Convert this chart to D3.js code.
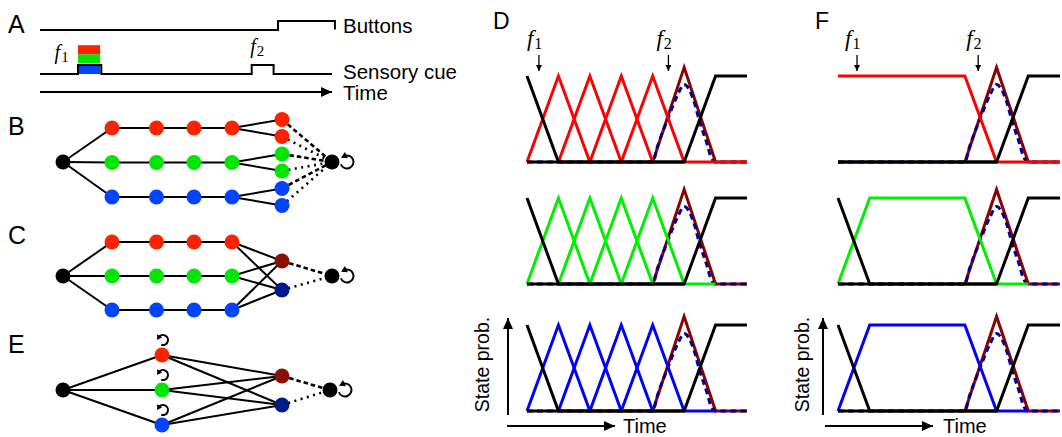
<!DOCTYPE html>
<html><head><meta charset="utf-8">
<script src="https://cdn.jsdelivr.net/npm/d3@7"></script>
<style>body{margin:0;background:#fff}svg{display:block}</style>
</head><body><svg id="fig" width="1062" height="437"></svg>
<script>
// ---------- data ----------
const chainLineColors = ["#ff0000", "#00ee00", "#0000ff"];   // red / green / blue state chains
const chainNodeColors = ["#ff2200", "#00e600", "#0044ff"];
const outcomeColors   = ["#8b1000", "#001a8c"];               // decision states
const decisionColor = "#8b0000";
const decisionDashColor = "#00008b";

// Panel A traces, [time, level]
const buttonsTrace = [[0,0],[81.5,0],[81.5,1],[101,1],[101,0.05]];
const cueTrace = [[0,0],[13,0],[13,1],[21,1],[21,0],[72.5,0],[72.5,1],[80,1],[80,0],[100,0]];
const cueBlocks = [ {lo:0, hi:1, color:2}, {lo:1.2, hi:2.2, color:1}, {lo:2.2, hi:3.2, color:0} ];
const cueBlockSpan = [13, 20.6];
const traceLabels = ["Buttons", "Sensory cue", "Time"];
const cueLabelTimes = [5, 72];

// Panels D and F: state probability over time (time in steps, prob 0..1)
const dBlack = [[0,1],[1,0],[5,0],[6,1],[7,1]];
const idleStates = [[0,0],[5,0]];
const dChainTriangles = [
  [[0,0],[1,1],[2,0]],
  [[1,0],[2,1],[3,0]],
  [[2,0],[3,1],[4,0]],
  [[3,0],[4,1],[5,0]]
];
const dChainTail = [ [[5,0],[7,0]], [[5,0],[6,0]], [[5,0],[6,0]] ];
const decisionTrace = [[4,0],[5,1.1],[6,0],[7,0]];
const decisionDashed = [[0,0],[4,0],[4.15,0.18],[4.5,0.52],[4.78,0.77],[5,0.9],[5.3,0.72],[5.5,0.46],[5.72,0.22],[5.85,0.06],[6,0],[7,0]];
const fChain = [
  [[0,1],[4,1],[5,0],[7,0]],
  [[0,0],[1,1],[4,1],[5,0],[6,0]],
  [[0,0],[1,1],[4,1],[5,0],[6,0]]
];
const fBlack = [ [[0,0],[5,0],[6,1],[7,1]], dBlack, dBlack ];
const dCueTimes = [0.38, 4.5];
const fCueTimes = [0.6, 4.42];

// Network structure
const chainLength = 4;

// ---------- drawing ----------
const svg = d3.select("#fig");
const defs = svg.append("defs");
function marker(id, len, half) {
  defs.append("marker").attr("id", id).attr("markerUnits", "userSpaceOnUse")
    .attr("viewBox", `0 ${-half} ${len} ${2*half}`).attr("refX", len).attr("refY", 0)
    .attr("markerWidth", len).attr("markerHeight", 2*half).attr("orient", "auto")
    .append("path").attr("d", `M0,${-half}L${len},0L0,${half}Z`).attr("fill", "#000");
}
marker("arrowBig", 11, 5);
marker("arrowSmall", 6, 3);

const sans = "'Liberation Sans', Arial, Helvetica, sans-serif";
const serif = "'Liberation Serif', 'Times New Roman', serif";

function panelLabel(txt, x, y, size) {
  svg.append("text").attr("x", x).attr("y", y).text(txt)
    .attr("font-family", sans).attr("font-size", size).attr("fill", "#000");
}
function fLabel(g, x, y, sub, size, subSize) {
  const t = g.append("text").attr("x", x).attr("y", y).attr("font-family", serif).attr("font-size", size);
  t.append("tspan").attr("font-style", "italic").text("f");
  t.append("tspan").attr("font-size", subSize).attr("dy", 3).attr("dx", 1).text(sub);
}

// ----- Panel A -----
panelLabel("A", 8, 33, 25);
const ax = d3.scaleLinear().domain([0, 100]).range([40, 332]);
const yBtn = d3.scaleLinear().domain([0, 1]).range([30, 21]);
const yCue = d3.scaleLinear().domain([0, 1]).range([74, 65]);
const gA = svg.append("g");
cueBlocks.forEach(b => {
  gA.append("rect").attr("x", ax(cueBlockSpan[0])).attr("width", ax(cueBlockSpan[1]) - ax(cueBlockSpan[0]))
    .attr("y", yCue(b.hi)).attr("height", yCue(b.lo) - yCue(b.hi)).attr("fill", chainNodeColors[b.color]);
});
gA.append("path").datum(buttonsTrace)
  .attr("d", d3.line().x(d => ax(d[0])).y(d => yBtn(d[1])))
  .attr("fill", "none").attr("stroke", "#000").attr("stroke-width", 2);
gA.append("path").datum(cueTrace)
  .attr("d", d3.line().x(d => ax(d[0])).y(d => yCue(d[1])))
  .attr("fill", "none").attr("stroke", "#000").attr("stroke-width", 2);
gA.append("line").attr("x1", ax(0)).attr("x2", ax(100)).attr("y1", 92).attr("y2", 92)
  .attr("stroke", "#000").attr("stroke-width", 2).attr("marker-end", "url(#arrowBig)");
[33, 79, 100].forEach((y, i) => {
  gA.append("text").attr("x", 343).attr("y", y).text(traceLabels[i])
    .attr("font-family", sans).attr("font-size", 20.5);
});
fLabel(gA, ax(cueLabelTimes[0]), 59, "1", 20, 15);
fLabel(gA, ax(cueLabelTimes[1]), 53, "2", 20, 15);

// ----- Network panels B, C, E -----
const layerX = d3.scaleLinear().domain([0,1,2,3,4,5,6]).range([63,112,156.5,194,232,282,332]);
const R = 7.5;

function drawEdges(g, edges) {
  g.selectAll(null).data(edges).join("line")
    .attr("x1", d => d.a[0]).attr("y1", d => d.a[1]).attr("x2", d => d.b[0]).attr("y2", d => d.b[1])
    .attr("stroke", "#000").attr("stroke-width", d => d.style === "solid" ? 2 : 2.6)
    .attr("stroke-dasharray", d => d.style === "dash" ? "4.5,3" : d.style === "dot" ? "2,4.5" : null);
}
function drawNodes(g, nodes) {
  g.selectAll(null).data(nodes).join("circle")
    .attr("cx", d => d.p[0]).attr("cy", d => d.p[1]).attr("r", R).attr("fill", d => d.color);
}
// self-loop: open arc (drawn anticlockwise from a0 to a1) with an arrowhead at its end
function loop(g, cx, cy, r, a0, a1, headLen, headHalf) {
  const p0 = [cx + r*Math.cos(a0), cy + r*Math.sin(a0)];
  const p1 = [cx + r*Math.cos(a1), cy + r*Math.sin(a1)];
  const dir = [Math.sin(a1), -Math.cos(a1)];          // travel direction at the arc end
  const nrm = [-dir[1], dir[0]];
  const tip = [p1[0] + dir[0]*headLen*0.6, p1[1] + dir[1]*headLen*0.6];
  const back = [tip[0] - dir[0]*headLen, tip[1] - dir[1]*headLen];
  g.append("path").attr("d", `M${p0[0]},${p0[1]}A${r},${r} 0 1 0 ${p1[0]},${p1[1]}`)
    .attr("fill", "none").attr("stroke", "#000").attr("stroke-width", 2);
  g.append("path")
    .attr("d", `M${tip[0]},${tip[1]}L${back[0] + nrm[0]*headHalf},${back[1] + nrm[1]*headHalf}L${back[0] - nrm[0]*headHalf},${back[1] - nrm[1]*headHalf}Z`)
    .attr("fill", "#000");
}
const deg = Math.PI / 180;

// Panel B: chains ending in paired response states
(function () {
  panelLabel("B", 8, 135, 25);
  const g = svg.append("g");
  const rowY = d3.scaleLinear().domain([0, 2]).range([128, 197]);
  const start = [layerX(0), 162], fin = [layerX(6), 162];
  const edges = [], nodes = [];
  chainNodeColors.forEach((c, r) => {
    const y = rowY(r);
    edges.push({a: start, b: [layerX(1), y], style: "solid"});
    for (let k = 1; k < chainLength; k++) edges.push({a: [layerX(k), y], b: [layerX(k+1), y], style: "solid"});
    [-8.5, 8.5].forEach((o, j) => {
      const p = [layerX(5), y + o];
      edges.push({a: [layerX(chainLength), y], b: p, style: "solid"});
      edges.push({a: p, b: fin, style: j === 0 ? "dash" : "dot"});
      nodes.push({p, color: c});
    });
    for (let k = 1; k <= chainLength; k++) nodes.push({p: [layerX(k), y], color: c});
  });
  nodes.push({p: start, color: "#000"}, {p: fin, color: "#000"});
  drawEdges(g, edges); drawNodes(g, nodes);
  loop(g, fin[0] + 15, fin[1], 6.5, 160*deg, -115*deg, 6, 3.5);
})();

// Panel C: chains converging on two decision states
(function () {
  panelLabel("C", 8, 244, 25);
  const g = svg.append("g");
  const rowY = d3.scaleLinear().domain([0, 2]).range([242, 310]);
  const start = [layerX(0), 276], fin = [layerX(6), 276];
  const outs = [[layerX(5), 261], [layerX(5), 290]];
  const edges = [], nodes = [];
  chainNodeColors.forEach((c, r) => {
    const y = rowY(r);
    edges.push({a: start, b: [layerX(1), y], style: "solid"});
    for (let k = 1; k < chainLength; k++) edges.push({a: [layerX(k), y], b: [layerX(k+1), y], style: "solid"});
    outs.forEach(o => edges.push({a: [layerX(chainLength), y], b: o, style: "solid"}));
    for (let k = 1; k <= chainLength; k++) nodes.push({p: [layerX(k), y], color: c});
  });
  outs.forEach((o, j) => { edges.push({a: o, b: fin, style: j === 0 ? "dash" : "dot"}); nodes.push({p: o, color: outcomeColors[j]}); });
  nodes.push({p: start, color: "#000"}, {p: fin, color: "#000"});
  drawEdges(g, edges); drawNodes(g, nodes);
  loop(g, fin[0] + 15, fin[1], 6.5, 160*deg, -115*deg, 6, 3.5);
})();

// Panel E: single self-looping state per cue
(function () {
  panelLabel("E", 8, 353, 25);
  const g = svg.append("g");
  const rowY = d3.scaleLinear().domain([0, 2]).range([355, 425]);
  const midX = 162;
  const start = [layerX(0), 390], fin = [330, 390];
  const outs = [[layerX(5), 376], [layerX(5), 405]];
  const edges = [], nodes = [];
  chainNodeColors.forEach((c, r) => {
    const p = [midX, rowY(r)];
    edges.push({a: start, b: p, style: "solid"});
    outs.forEach(o => edges.push({a: p, b: o, style: "solid"}));
    nodes.push({p, color: c});
  });
  outs.forEach((o, j) => { edges.push({a: o, b: fin, style: j === 0 ? "dash" : "dot"}); nodes.push({p: o, color: outcomeColors[j]}); });
  nodes.push({p: start, color: "#000"}, {p: fin, color: "#000"});
  drawEdges(g, edges); drawNodes(g, nodes);
  loop(g, fin[0] + 15, fin[1], 6.5, 160*deg, -115*deg, 6, 3.5);
  chainNodeColors.forEach((c, r) => loop(g, midX + 1, rowY(r) - 15, 5, 110*deg, -150*deg, 5, 3));
})();

// ----- Panels D and F -----
const rowBase = [162, 284, 411];
const unitH = 86;

function probPanel(x0, x1, label, labelX, cueTimes, drawRow) {
  const x = d3.scaleLinear().domain([0, 7]).range([x0, x1]);
  panelLabel(label, labelX, 29, 23);
  rowBase.forEach((b, r) => {
    const y = d3.scaleLinear().domain([0, 1]).range([b, b - unitH]);
    const g = svg.append("g");
    const path = (data, color, extra) => {
      const line = d3.line().x(d => x(d[0])).y(d => y(d[1]))
        .curve(extra && extra.curve ? extra.curve : d3.curveLinear);
      const p = g.append("path").datum(data).attr("d", line)
        .attr("fill", "none").attr("stroke", color).attr("stroke-width", 3).attr("stroke-linejoin", "miter");
      if (extra && extra.dash) p.attr("stroke-dasharray", extra.dash);
      return p;
    };
    path(decisionTrace, decisionColor);
    path(decisionDashed, decisionDashColor, {dash: "6,4", curve: d3.curveMonotoneX});
    drawRow(r, path);
    path(idleStates, "#000");
  });
  const g = svg.append("g");
  cueTimes.forEach((t, i) => {
    g.append("line").attr("x1", x(t)).attr("x2", x(t)).attr("y1", 55).attr("y2", 71)
      .attr("stroke", "#000").attr("stroke-width", 1.3).attr("marker-end", "url(#arrowSmall)");
    fLabel(g, x(t) - 12, 46, String(i + 1), 23, 16);
  });
  return x;
}

function axesArrows(axisX, textX, timeX0, timeX1, timeTextX) {
  const g = svg.append("g");
  g.append("line").attr("x1", axisX).attr("x2", axisX).attr("y1", 415).attr("y2", 318)
    .attr("stroke", "#000").attr("stroke-width", 2).attr("marker-end", "url(#arrowBig)");
  g.append("text").attr("transform", `translate(${textX},364.5) rotate(-90)`).attr("text-anchor", "middle")
    .attr("font-family", sans).attr("font-size", 19.5).text("State prob.");
  g.append("line").attr("x1", timeX0).attr("x2", timeX1).attr("y1", 426).attr("y2", 426)
    .attr("stroke", "#000").attr("stroke-width", 2).attr("marker-end", "url(#arrowBig)");
  g.append("text").attr("x", timeTextX).attr("y", 433).attr("font-family", sans).attr("font-size", 20).text("Time");
}

probPanel(527, 747, "D", 493, dCueTimes, (r, path) => {
  dChainTriangles.forEach(tri => path(tri, chainLineColors[r]));
  path(dChainTail[r], chainLineColors[r]);
  path(dBlack, "#000");
});
probPanel(838, 1060, "F", 815, fCueTimes, (r, path) => {
  path(fChain[r], chainLineColors[r]);
  path(fBlack[r], "#000");
});
axesArrows(508, 489, 507, 615, 623);
axesArrows(823, 809, 825, 933, 943);
</script></body></html>
